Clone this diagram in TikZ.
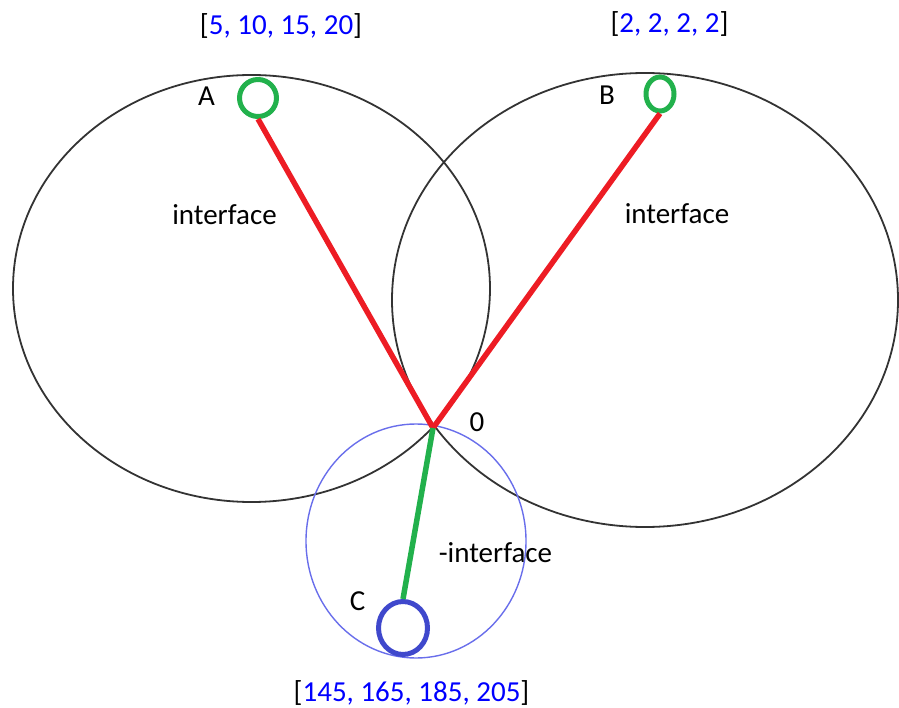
\documentclass[tikz,border=0pt]{standalone}
\usepackage{fontspec}
\setmainfont{Carlito}
\usetikzlibrary{shapes.geometric}
\definecolor{ringgreen}{RGB}{34,177,76}
\definecolor{linkred}{RGB}{237,28,36}
\definecolor{ringblue}{RGB}{63,72,204}
\definecolor{haloblue}{RGB}{105,110,235}
\definecolor{numblue}{RGB}{0,0,255}

\begin{document}
\begin{tikzpicture}[x=1pt,y=-1pt,
    lab/.style={font=\fontsize{29}{34}\selectfont, anchor=base, inner sep=0pt},
    ring/.style={ellipse, draw, line width=5pt, inner sep=0pt},
    link/.style={line width=5.5pt}]
  \useasboundingbox (0,0) rectangle (899,708);
  % interface regions and the halo round C
  \draw[line width=1.8pt, black!80] (251.5,288.5) ellipse [x radius=238.5pt, y radius=213.5pt];
  \draw[line width=1.8pt, black!80] (645,300) ellipse [x radius=253pt, y radius=227pt];
  \draw[line width=1.4pt, haloblue] (416,541) ellipse [x radius=110pt, y radius=117pt];
  % points
  \coordinate (O) at (433,428);
  \node[ring, ringgreen, minimum width=37pt, minimum height=37pt] (ringA) at (258,98) {};
  \node[ring, ringgreen, minimum width=28pt, minimum height=34pt] (ringB) at (660,94) {};
  \node[ring, ringblue, minimum width=49pt, minimum height=53pt] (ringC) at (403,628) {};
  % links to the origin
  \draw[link, linkred] (ringA.south) -- (O);
  \draw[link, linkred] (ringB.south) -- (O);
  \draw[link, ringgreen] (O) -- (ringC.north);
  % labels
  \node[lab] (labA) at (206.5,106) {A};
  \node[lab] (labB) at (607,105) {B};
  \node[lab] (labC) at (357.5,610) {C};
  \node[lab] (labO) at (477,431) {0};
  \node[lab] (ifA) at (224.5,225) {interface};
  \node[lab] (ifB) at (677,224) {interface};
  \node[lab] (ifC) at (495.5,562) {-interface};
  \node[lab] (valA) at (281,35) {[\textcolor{numblue}{5, 10, 15, 20}]};
  \node[lab] (valB) at (669.5,33) {[\textcolor{numblue}{2, 2, 2, 2}]};
  \node[lab] (valC) at (411.5,701) {[\textcolor{numblue}{145, 165, 185, 205}]};
\end{tikzpicture}
\end{document}
